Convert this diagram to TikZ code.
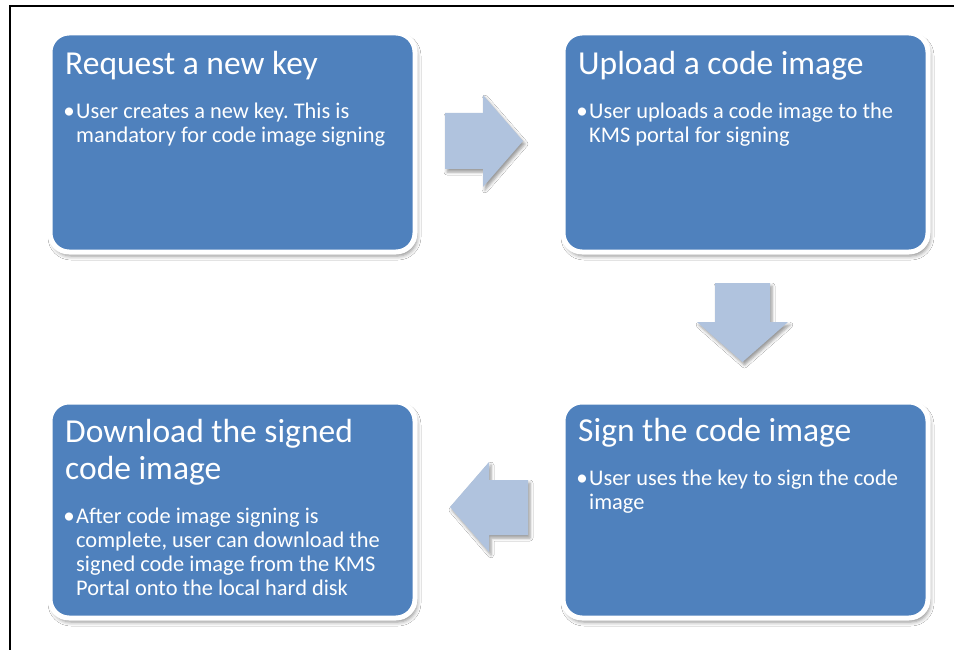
\documentclass[tikz,border=0pt]{standalone}
\usepackage{fontspec}
\setmainfont{Carlito}
\frenchspacing
\usetikzlibrary{shadows.blur}
\definecolor{stepblue}{HTML}{4F81BD}
\definecolor{flowarrow}{HTML}{B0C3DE}
\begin{document}
\begin{tikzpicture}[x=1pt,y=-1pt,
  stepbox/.style={fill=stepblue, draw=white, line width=5pt, rounded corners=19pt,
    rectangle, inner sep=0pt, anchor=north west,
    blur shadow={shadow xshift=2pt, shadow yshift=-4pt, shadow blur radius=4pt, shadow opacity=45}},
  flow/.style={fill=flowarrow, draw=none,
    blur shadow={shadow xshift=2pt, shadow yshift=-3pt, shadow blur radius=3pt, shadow opacity=40}},
  title/.style={text=white, anchor=base west, inner sep=0pt, font=\fontsize{33.5}{37}\selectfont},
  body/.style={text=white, anchor=base west, inner sep=0pt, font=\fontsize{22.4}{24}\selectfont},
  dot/.style={text=white, anchor=base, inner sep=0pt, font=\fontsize{23}{24}\selectfont},
]
\useasboundingbox (0,0) rectangle (954,650);
\fill[white] (0,0) rectangle (954,650);

% outer frame (top and left edges)
\draw[line width=2pt] (954,6) -- (10,6) -- (10,650);

% step boxes
\node[stepbox, minimum width=365pt, minimum height=219pt] (req)  at (47.5,30.5) {};
\node[stepbox, minimum width=365pt, minimum height=219pt] (upl)  at (560.5,30.5) {};
\node[stepbox, minimum width=365pt, minimum height=216pt] (sign) at (560.5,399.5) {};
\node[stepbox, minimum width=365pt, minimum height=216pt] (down) at (47.5,399.5) {};

% block arrows between steps
\fill[flow] (445,113) -- (483,113) -- (483,95) -- (523,141) -- (483,187) -- (483,169) -- (445,169) -- cycle;
\fill[flow] (715,283) -- (770,283) -- (770,322) -- (788,322) -- (742.5,362) -- (697,322) -- (715,322) -- cycle;
\fill[flow] (528,480) -- (489,480) -- (489,462) -- (450,507) -- (489,552) -- (489,535) -- (528,535) -- cycle;

% texts: request a new key
\node[title] (reqT) at (65,75) {Request a new key};
\node[dot] (reqD) at (69,119) {•};
\node[body] (reqB) at (76,119) {\parbox[t]{330pt}{User creates a new key. This is\\mandatory for code image signing}};

% upload a code image
\node[title] (uplT) at (578,75) {Upload a code image};
\node[dot] (uplD) at (582,119) {•};
\node[body] (uplB) at (589,119) {\parbox[t]{330pt}{User uploads a code image to the\\KMS portal for signing}};

% sign the code image
\node[title] (signT) at (578,441) {Sign the code image};
\node[dot] (signD) at (582,485) {•};
\node[body] (signB) at (589,485) {\parbox[t]{330pt}{User uses the key to sign the code\\image}};

% download the signed code image
\node[title] (downT) at (65,442) {\parbox[t]{340pt}{Download the signed\\code image}};
\node[dot] (downD) at (69,523) {•};
\node[body] (downB) at (76,523) {\parbox[t]{330pt}{After code image signing is\\complete, user can download the\\signed code image from the KMS\\Portal onto the local hard disk}};
\end{tikzpicture}
\end{document}
